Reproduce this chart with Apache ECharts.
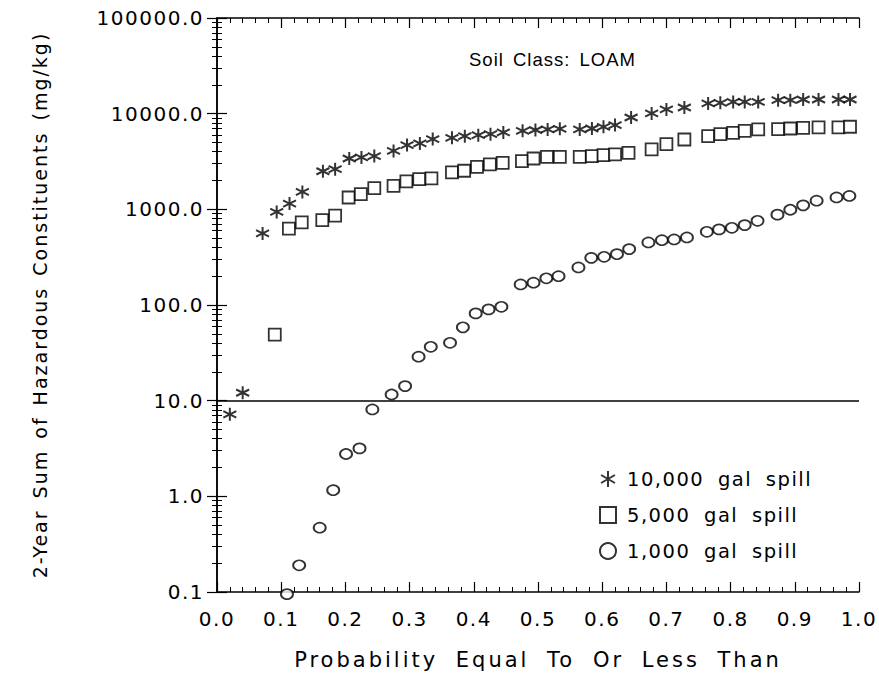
<!DOCTYPE html>
<html>
<head>
<meta charset="utf-8">
<script src="https://cdn.jsdelivr.net/npm/echarts@6/dist/echarts.min.js"></script>
<style>
html,body{margin:0;padding:0;background:#fff;}
#chart{width:879px;height:685px;}
#chart text{letter-spacing:1.5px;word-spacing:4px;}
#chart text[style*="21px"]{letter-spacing:3px;word-spacing:8px;}
#chart text[style*="19px"]{letter-spacing:2px;word-spacing:3px;}
#chart text[style*="19.5px"]{letter-spacing:1.5px;word-spacing:6px;}
#chart text[style*="18.5px"]{letter-spacing:1px;word-spacing:3px;}
</style>
</head>
<body>
<div id="chart"></div>
<script>
// ---- data ----
const starP = [0.020, 0.040, 0.071, 0.093, 0.113, 0.133, 0.165, 0.184, 0.206, 0.225, 0.245, 0.275, 0.296, 0.316, 0.336, 0.366, 0.386, 0.407, 0.426, 0.446, 0.476, 0.496, 0.515, 0.534, 0.565, 0.584, 0.602, 0.620, 0.645, 0.677, 0.700, 0.728, 0.765, 0.784, 0.804, 0.822, 0.843, 0.874, 0.893, 0.913, 0.937, 0.968, 0.986];
const starV = [7.2, 12.1, 560, 940, 1150, 1520, 2500, 2630, 3400, 3490, 3600, 4080, 4690, 4890, 5420, 5590, 5820, 5960, 6100, 6360, 6610, 6750, 6850, 6950, 6840, 7000, 7280, 7590, 9120, 10050, 11070, 11600, 12790, 12970, 13280, 13280, 13280, 13840, 13840, 14060, 14060, 14060, 14060];

const squareP = [0.090, 0.112, 0.132, 0.164, 0.184, 0.205, 0.224, 0.245, 0.275, 0.295, 0.315, 0.334, 0.366, 0.385, 0.405, 0.425, 0.445, 0.475, 0.493, 0.514, 0.534, 0.565, 0.584, 0.602, 0.620, 0.641, 0.677, 0.700, 0.728, 0.765, 0.784, 0.804, 0.822, 0.843, 0.874, 0.893, 0.913, 0.937, 0.968, 0.986];
const squareV = [49, 630, 730, 770, 860, 1330, 1440, 1670, 1760, 1960, 2070, 2110, 2430, 2530, 2780, 2950, 3060, 3190, 3400, 3540, 3540, 3540, 3600, 3680, 3750, 3900, 4230, 4800, 5370, 5820, 6100, 6310, 6610, 6840, 6900, 7000, 7100, 7200, 7200, 7300];

const circleP = [0.109, 0.128, 0.160, 0.181, 0.201, 0.222, 0.242, 0.272, 0.293, 0.314, 0.333, 0.363, 0.383, 0.403, 0.423, 0.443, 0.473, 0.493, 0.513, 0.532, 0.563, 0.583, 0.603, 0.623, 0.642, 0.672, 0.693, 0.712, 0.732, 0.763, 0.782, 0.802, 0.822, 0.842, 0.873, 0.893, 0.913, 0.934, 0.965, 0.985];
const circleV = [0.095, 0.19, 0.47, 1.16, 2.77, 3.17, 8.1, 11.6, 14.2, 28.8, 36.6, 40.3, 58.4, 81.7, 90, 95.7, 164, 171, 190, 200, 247, 311, 319, 340, 384, 451, 476, 484, 508, 582, 617, 641, 684, 759, 880, 990, 1100, 1230, 1330, 1380];

const seriesNames = ['10,000 gal spill', '5,000 gal spill', '1,000 gal spill'];
const referenceLine = 10;
const titleText = 'Soil Class: LOAM';
const xName = 'Probability Equal To Or Less Than';
const yName = '2-Year Sum of Hazardous Constituents (mg/kg)';

const zip = (a, b) => a.map((v, i) => [v, b[i]]);

const FONT = 'DejaVu Sans';
const starPath = 'path://M10,0L10,20M1.34,5L18.66,15M1.34,15L18.66,5';

const axisLine = { show: true, lineStyle: { color: '#000', width: 1.5 } };
const tickIn = { show: true, inside: true, length: 10, lineStyle: { color: '#000', width: 1.2 } };

const xBase = {
  type: 'value', min: 0, max: 1, interval: 0.1,
  axisLine: axisLine, axisTick: tickIn,
  minorTick: { show: true, splitNumber: 5, length: 5, lineStyle: { color: '#000', width: 1 } },
  splitLine: { show: false }, minorSplitLine: { show: false }
};
const yBase = {
  type: 'log', logBase: 10, min: 0.1, max: 100000,
  axisLine: axisLine, axisTick: tickIn,
  minorTick: { show: true, splitNumber: 9, length: 5, lineStyle: { color: '#000', width: 1 } },
  splitLine: { show: false }, minorSplitLine: { show: false }
};

const chart = echarts.init(document.getElementById('chart'), null, { renderer: 'svg' });
chart.setOption({
  backgroundColor: '#fff',
  animation: false,
  title: {
    text: titleText, left: 464, top: 45,
    textStyle: { fontFamily: 'Liberation Sans', fontSize: 18.5, fontWeight: 'normal', color: '#000' }
  },
  grid: { left: 217, right: 20, top: 18, bottom: 93 },
  legend: {
    orient: 'vertical', left: 594, top: 464, itemGap: 16, itemWidth: 16, itemHeight: 16,
    textStyle: { fontFamily: FONT, fontSize: 19.5, color: '#000', padding: [0, 0, 0, 6] },
    data: seriesNames
  },
  xAxis: [
    Object.assign({}, xBase, {
      position: 'bottom',
      name: xName, nameLocation: 'middle', nameGap: 57,
      nameTextStyle: { fontFamily: FONT, fontSize: 21, color: '#000' },
      axisLabel: { margin: 17, fontFamily: FONT, fontSize: 20, color: '#000', formatter: v => v.toFixed(1) }
    }),
    Object.assign({}, xBase, { position: 'top', axisLabel: { show: false } })
  ],
  yAxis: [
    Object.assign({}, yBase, {
      position: 'left',
      name: yName, nameLocation: 'middle', nameGap: 168,
      nameTextStyle: { fontFamily: FONT, fontSize: 19, color: '#000' },
      axisLabel: { margin: 13, fontFamily: FONT, fontSize: 20, color: '#000', formatter: v => Number(v).toFixed(1) }
    }),
    Object.assign({}, yBase, { position: 'right', axisLabel: { show: false } })
  ],
  series: [
    {
      name: seriesNames[0], type: 'scatter', clip: false,
      symbol: starPath, symbolSize: 13,
      itemStyle: { color: '#000', borderColor: '#000', borderWidth: 2 },
      data: zip(starP, starV),
      markLine: {
        silent: true, symbol: 'none', label: { show: false },
        lineStyle: { color: '#000', width: 1.5, type: 'solid' },
        data: [{ yAxis: referenceLine }]
      }
    },
    {
      name: seriesNames[1], type: 'scatter', clip: false,
      symbol: 'rect', symbolSize: 12,
      itemStyle: { color: '#fff', borderColor: '#000', borderWidth: 1.8 },
      data: zip(squareP, squareV)
    },
    {
      name: seriesNames[2], type: 'scatter', clip: false,
      symbol: 'circle', symbolSize: [12, 10],
      itemStyle: { color: '#fff', borderColor: '#000', borderWidth: 1.8 },
      data: zip(circleP, circleV)
    }
  ]
});
</script>
</body>
</html>
